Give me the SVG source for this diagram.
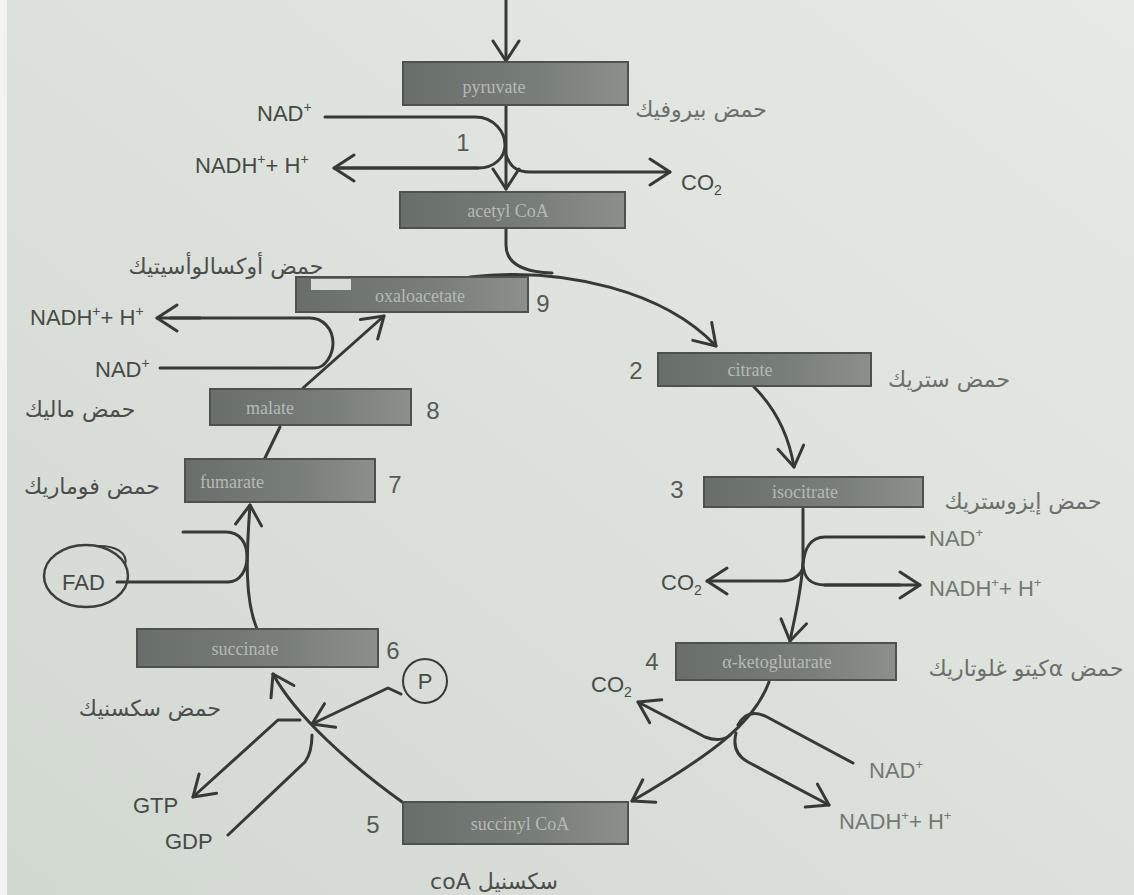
<svg xmlns="http://www.w3.org/2000/svg" width="1134" height="895" viewBox="0 0 1134 895">
<defs>
<linearGradient id="bg" x1="0" y1="1" x2="1" y2="0"><stop offset="0" stop-color="#d2d9d1"/><stop offset="1" stop-color="#e6eae5"/></linearGradient>
<linearGradient id="boxg" x1="0" y1="0" x2="1" y2="0"><stop offset="0" stop-color="#686e69"/><stop offset="0.6" stop-color="#787e79"/><stop offset="1" stop-color="#8b908c"/></linearGradient>
<marker id="ah" viewBox="-24 -16 28 32" refX="0" refY="0" markerWidth="28" markerHeight="32" markerUnits="userSpaceOnUse" orient="auto"><path d="M-20,-13 L0,0 L-20,13" fill="none" stroke="#353a37" stroke-width="3" stroke-linecap="round" stroke-linejoin="round"/></marker>
</defs>
<style>
.box{fill:url(#boxg);stroke:#4c524e;stroke-width:2}
.bt{font-family:"Liberation Serif",serif;font-size:18px;fill:#b4bab6;text-anchor:middle}
.lbl{font-family:"Liberation Sans",Arial,sans-serif;font-size:22px;fill:#454a47}
.lr{fill:#737975}
.num{font-family:"Liberation Sans",Arial,sans-serif;font-size:24px;fill:#545a56;text-anchor:middle}
.ar{font-family:"DejaVu Sans","Noto Sans",sans-serif;font-size:22px;fill:#4a4f4c;text-anchor:middle}
.arr{fill:#6a706c}
.ln{fill:none;stroke:#353a37;stroke-width:3;stroke-linecap:round;stroke-linejoin:round}
.arw{marker-end:url(#ah)}
</style>
<rect width="1134" height="895" fill="url(#bg)"/>
<rect x="0" y="0" width="7" height="895" fill="#f3f4f2"/>

<g id="connectors">
<path class="ln arw" d="M506 0 L506 61"/>
<path class="ln arw" d="M506 105 L506 189"/>
<path class="ln" d="M325 117 L475 117 C495 117 505 133 505 145 C505 157 495 168 478 168 L340 168"/>
<path class="ln arw" d="M478 168 L334 168"/>
<path class="ln arw" d="M506 155 C510 166 516 172 530 172 L670 172"/>
<path class="ln" d="M506 228 L506 245 C506 264 524 272 552 273"/>
<path class="ln arw" d="M470 277 C565 266 665 292 716 346"/>
<path class="ln arw" d="M754 387 C772 405 788 430 794 467"/>
<path class="ln arw" d="M803 509 L803 560 C802 590 795 615 790 641"/>
<path class="ln" d="M924 537 L825 537 C810 537 804 550 803 565 C804 578 810 585 825 585 L900 585"/>
<path class="ln arw" d="M825 585 L920 585"/>
<path class="ln arw" d="M803 568 C800 576 792 581 782 581 L707 581"/>
<path class="ln arw" d="M769 682 C755 720 720 750 632 801"/>
<path class="ln" d="M853 763 L767 717 C755 711 745 712 738 725"/>
<path class="ln arw" d="M736 733 C733 745 735 755 748 762 L829 805"/>
<path class="ln arw" d="M730 735 C725 740 715 741 705 737 L638 702"/>
<path class="ln arw" d="M405 804 C350 765 295 715 273 674"/>
<path class="ln arw" d="M401 694 L388 688 L312 724"/>
<path class="ln arw" d="M300 720 L278 720 L193 797"/>
<path class="ln" d="M228 835 L305 762 C310 755 312 745 312 735"/>
<path class="ln arw" d="M257 629 C245 600 246 560 250 505"/>
<path class="ln" d="M117 582 L228 582 C240 582 247 570 247 557 C247 543 240 532 226 532 L183 532"/>
<path class="ln" d="M264 460 L280 427"/>
<path class="ln arw" d="M303 388 L384 316"/>
<path class="ln" d="M160 368 L315 368 C325 368 333 355 333 343 C333 328 322 318 310 318 L170 318"/>
<path class="ln arw" d="M200 318 L157 318"/>
</g>

<g id="pyruvate"><rect class="box" x="403" y="62" width="225" height="43"/><text class="bt" x="494" y="93">pyruvate</text><text class="ar arr" x="701" y="117" font-size="20">حمض بيروفيك</text></g>
<g id="acetylcoa"><rect class="box" x="400" y="192" width="225" height="36"/><text class="bt" x="508" y="217">acetyl CoA</text></g>
<g id="oxaloacetate"><rect class="box" x="296" y="277" width="232" height="35"/><rect x="311" y="279" width="40" height="11" fill="#d9ddd8"/><text class="bt" x="420" y="302">oxaloacetate</text><text class="ar" x="226" y="274">حمض أوكسالوأسيتيك</text><text class="num" x="543" y="312">9</text></g>
<g id="citrate"><rect class="box" x="658" y="353" width="213" height="33"/><text class="bt" x="750" y="376">citrate</text><text class="ar arr" x="949" y="387">حمض ستريك</text><text class="num" x="636" y="379">2</text></g>
<g id="isocitrate"><rect class="box" x="704" y="477" width="219" height="30"/><text class="bt" x="805" y="498">isocitrate</text><text class="ar arr" x="1023" y="509">حمض إيزوستريك</text><text class="num" x="677" y="498">3</text></g>
<g id="ketoglutarate"><rect class="box" x="676" y="643" width="220" height="37"/><text class="bt" x="777" y="668">α-ketoglutarate</text><text class="ar arr" x="1026" y="676" direction="rtl">حمض αكيتو غلوتاريك</text><text class="num" x="652" y="670" font-size="20">4</text></g>
<g id="succinylcoa"><rect class="box" x="403" y="802" width="225" height="42"/><text class="bt" x="520" y="830">succinyl CoA</text><text class="ar" x="494" y="889" font-size="21">coA سكسنيل</text><text class="num" x="373" y="833">5</text></g>
<g id="succinate"><rect class="box" x="137" y="629" width="241" height="38"/><text class="bt" x="245" y="655">succinate</text><text class="ar" x="150" y="716">حمض سكسنيك</text><text class="num" x="393" y="659">6</text></g>
<g id="fumarate"><rect class="box" x="185" y="459" width="190" height="43"/><text class="bt" x="232" y="488">fumarate</text><text class="ar" x="92" y="494">حمض فوماريك</text><text class="num" x="395" y="493">7</text></g>
<g id="malate"><rect class="box" x="210" y="389" width="201" height="36"/><text class="bt" x="270" y="414">malate</text><text class="ar" x="80" y="417">حمض ماليك</text><text class="num" x="433" y="419">8</text></g>

<g id="step1"><text class="num" x="463" y="151">1</text>
<text class="lbl" x="257" y="121">NAD<tspan dy="-9" font-size="14">+</tspan></text>
<text class="lbl" x="195" y="173">NADH<tspan dy="-9" font-size="14">+</tspan><tspan dy="9">+ H</tspan><tspan dy="-9" font-size="14">+</tspan></text>
<text class="lbl" x="681" y="190" font-size="21">CO<tspan dy="5" font-size="14">2</tspan></text></g>
<g id="step9">
<text class="lbl" x="30" y="325">NADH<tspan dy="-9" font-size="14">+</tspan><tspan dy="9">+ H</tspan><tspan dy="-9" font-size="14">+</tspan></text>
<text class="lbl" x="95" y="377">NAD<tspan dy="-9" font-size="14">+</tspan></text></g>
<g id="step3">
<text class="lbl lr" x="929" y="546" font-size="20">NAD<tspan dy="-9" font-size="13">+</tspan></text>
<text class="lbl lr" x="929" y="596" font-size="20">NADH<tspan dy="-9" font-size="13">+</tspan><tspan dy="9">+ H</tspan><tspan dy="-9" font-size="13">+</tspan></text>
<text class="lbl" x="661" y="590" font-size="21">CO<tspan dy="5" font-size="14">2</tspan></text></g>
<g id="step4">
<text class="lbl" x="591" y="692" font-size="21">CO<tspan dy="5" font-size="14">2</tspan></text>
<text class="lbl lr" x="869" y="778" font-size="21">NAD<tspan dy="-9" font-size="13">+</tspan></text>
<text class="lbl lr" x="839" y="829" font-size="21">NADH<tspan dy="-9" font-size="13">+</tspan><tspan dy="9">+ H</tspan><tspan dy="-9" font-size="13">+</tspan></text></g>
<g id="step5">
<circle cx="425" cy="681" r="22" fill="none" stroke="#353a37" stroke-width="2"/>
<text class="lbl" x="425" y="689" text-anchor="middle">P</text>
<text class="lbl" x="133" y="813">GTP</text>
<text class="lbl" x="165" y="849">GDP</text></g>
<g id="step6">
<ellipse cx="86" cy="576" rx="42" ry="31" fill="none" stroke="#3b403d" stroke-width="2.5"/>
<path d="M96 546 C114 545 129 552 125 566" fill="none" stroke="#3b403d" stroke-width="2"/>
<text class="lbl" x="62" y="590" font-size="24">FAD</text></g>
</svg>
